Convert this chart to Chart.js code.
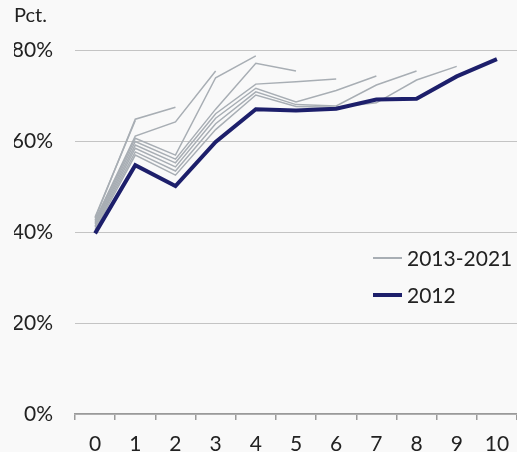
<!DOCTYPE html>
<html>
<head>
<meta charset="utf-8">
<script src="https://cdn.jsdelivr.net/npm/chart.js@4"></script>
<style>
  body { margin: 0; background: #f9f9f9; font-family: Lato, sans-serif; }
  #wrap { position: relative; width: 517px; height: 452px; }
  .leg { position: absolute; left: 373px; width: 145px; height: 26px; }
  .leg span.ln { position: absolute; left: 0; width: 29px; }
  .leg span.tx { position: absolute; left: 34px; top: 0; font-size: 21px; line-height: 26px; color: #222; }
</style>
</head>
<body>
<div id="wrap">
  <canvas id="myChart"></canvas>
  <div class="leg" style="top:245px"><span class="ln" style="top:12px;height:1.5px;background:#a8aeb4"></span><span class="tx">2013-2021</span></div>
  <div class="leg" style="top:282px"><span class="ln" style="top:11px;height:4px;background:#1d1f6b"></span><span class="tx">2012</span></div>
</div>
<script>
// x-akse: år efter start
let aar = ['0', '1', '2', '3', '4', '5', '6', '7', '8', '9', '10'];

let aargang2012 = [39.7, 54.7, 50.1, 59.8, 67.0, 66.7, 67.1, 69.1, 69.3, 74.2, 78.0];
let aargang2013 = [40.5, 56.9, 52.5, 62.5, 70.1, 67.6, 67.4, 68.4, 73.4, 76.4];
let aargang2014 = [41.0, 57.6, 53.4, 63.8, 70.8, 68.0, 67.7, 72.3, 75.4];
let aargang2015 = [41.3, 58.4, 54.3, 65.0, 71.6, 68.6, 71.1, 74.3];
let aargang2016 = [41.7, 59.1, 55.2, 66.0, 72.5, 73.0, 73.6];
let aargang2017 = [42.0, 59.9, 56.0, 67.0, 77.1, 75.4];
let aargang2018 = [42.3, 60.6, 56.9, 73.9, 78.7];
let aargang2019 = [42.6, 61.1, 64.2, 75.4];
let aargang2020 = [43.0, 64.8, 67.4];
let aargang2021 = [43.3, 64.5];

let graaAargange = {
    '2013': aargang2013, '2014': aargang2014, '2015': aargang2015,
    '2016': aargang2016, '2017': aargang2017, '2018': aargang2018,
    '2019': aargang2019, '2020': aargang2020, '2021': aargang2021
};

let datasets = [{
    label: '2012',
    data: aargang2012,
    borderColor: '#1d1f6b',
    borderWidth: 4,
    pointRadius: 0,
    tension: 0
}];

for (let aarstal in graaAargange) {
    datasets.push({
        label: aarstal,
        data: graaAargange[aarstal],
        borderColor: '#a8aeb4',
        borderWidth: 1.5,
        pointRadius: 0,
        tension: 0
    });
}

let ctx = document.getElementById('myChart').getContext('2d');
let chart = new Chart(ctx, {
    type: 'line',
    data: {
        labels: aar,
        datasets: datasets
    },
    options: {
        responsive: true,
        maintainAspectRatio: false,
        animation: false,
        layout: { padding: { left: 14, right: 0, top: 0, bottom: 0 } },
        plugins: {
            legend: { display: false },
            tooltip: { enabled: false },
            title: {
                display: true,
                text: 'Pct.',
                align: 'start',
                color: '#222',
                font: { family: 'Lato', size: 20, weight: 'normal' },
                padding: { top: 4, bottom: 22 }
            }
        },
        scales: {
            x: {
                offset: true,
                afterFit: function(scale) {
                    scale.height = 38;
                    scale.paddingLeft = 0;  // ingen ekstra luft til højre
                    scale.paddingRight = 0;
                },
                grid: {
                    drawOnChartArea: false,
                    drawTicks: true,
                    tickLength: 6,
                    color: '#9a9a9a',
                    lineWidth: 1.5,
                    offset: true
                },
                border: { display: true, color: '#9a9a9a', width: 1.5 },
                ticks: {
                    color: '#222',
                    padding: 12,
                    maxRotation: 0,
                    font: { family: 'Lato', size: 21 }
                }
            },
            y: {
                min: 0,
                max: 80,
                afterFit: function(scale) { scale.width = 61; },
                grid: { color: '#c4c4c4', lineWidth: 1, drawTicks: false },
                border: { display: false },
                ticks: {
                    stepSize: 20,
                    padding: 22,
                    color: '#222',
                    font: { family: 'Lato', size: 21 },
                    callback: function(v) { return v + '%'; }
                }
            }
        }
    }
});
</script>
</body>
</html>
